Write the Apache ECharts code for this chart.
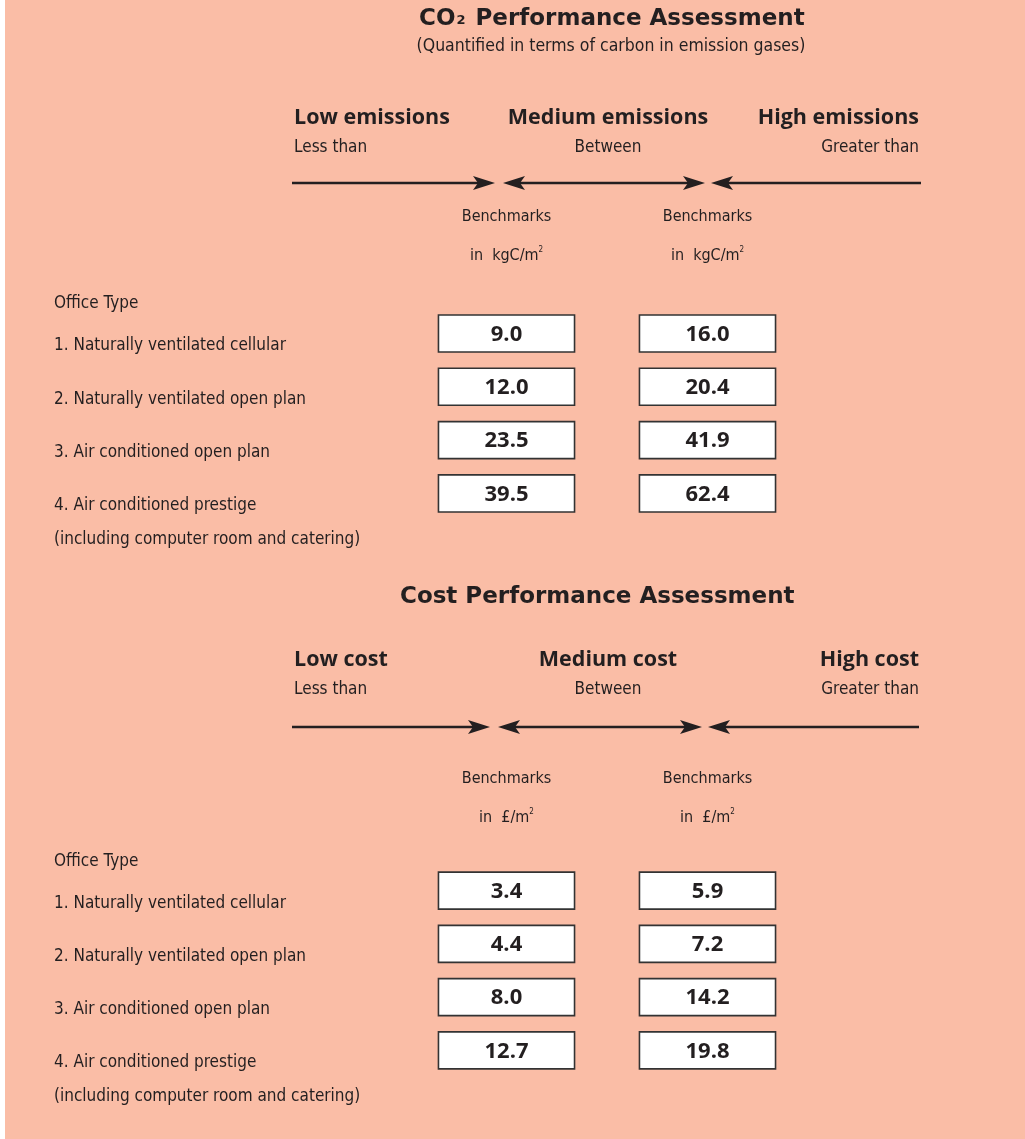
<!DOCTYPE html>
<html><head><meta charset="utf-8">
<script src="https://cdn.jsdelivr.net/npm/echarts@6/dist/echarts.min.js"></script>
<style>html,body{margin:0;padding:0;background:#fff}#c{width:1025px;height:1139px}</style>
</head><body><div id="c"></div>
<script>
// ---- data ----
const officeTypes = [
  '1. Naturally ventilated cellular',
  '2. Naturally ventilated open plan',
  '3. Air conditioned open plan',
  '4. Air conditioned prestige\n(including computer room and catering)'
];
const thresholds = ['Low / Medium boundary', 'Medium / High boundary'];
const co2Lower = [9.0, 12.0, 23.5, 39.5];
const co2Upper = [16.0, 20.4, 41.9, 62.4];
const costLower = [3.4, 4.4, 8.0, 12.7];
const costUpper = [5.9, 7.2, 14.2, 19.8];
const co2Unit = 'kgC/m';
const costUnit = '£/m';
const co2Bands = ['Low emissions', 'Medium emissions', 'High emissions'];
const costBands = ['Low cost', 'Medium cost', 'High cost'];
const bandQualifiers = ['Less than', 'Between', 'Greater than'];

// ---- style ----
const INK = '#231f20';
const BG = '#FABDA6';
const REG = "'Liberation Sans Narrow','DejaVu Sans Condensed','Roboto Condensed','Noto Sans',sans-serif";
const BOLD = "'Open Sans','Lato',sans-serif";
const TITLE = "'DejaVu Sans','Open Sans',sans-serif";

function boxData(lower, upper) {
  const d = [];
  officeTypes.forEach((t, i) => {
    d.push([thresholds[0], t, lower[i]]);
    d.push([thresholds[1], t, upper[i]]);
  });
  return d;
}

function renderBox(params, api) {
  const c = api.coord([api.value(0), api.value(1)]);
  const s = api.size([1, 1]);
  const w = s[0] * 0.677, h = s[1] * 0.695;
  return {
    type: 'group',
    children: [
      { type: 'rect', shape: { x: c[0] - w / 2, y: c[1] - h / 2, width: w, height: h },
        style: { fill: '#fff', stroke: '#333', lineWidth: 1.6 } },
      { type: 'text', x: c[0], y: c[1] + 1,
        style: { text: api.value(2).toFixed(1), align: 'center', verticalAlign: 'middle',
                 font: 'bold 22px ' + BOLD, fill: INK } }
    ]
  };
}

function yAxisFor(gi) {
  return {
    type: 'category', gridIndex: gi, data: officeTypes, inverse: true,
    axisLine: { show: false }, axisTick: { show: false }, splitLine: { show: false },
    axisLabel: {
      interval: 0, align: 'left', margin: 352, verticalAlign: 'top',
      formatter: v => v.split('\n').map((l, i) => (i === 0 ? '{a|' : '{b|') + l + '}').join('\n'),
      rich: {
        a: { fontFamily: REG, fontSize: 17, color: INK, lineHeight: 25 },
        b: { fontFamily: REG, fontSize: 17, color: INK, lineHeight: 42 }
      }
    }
  };
}

function xAxisFor(gi, unit, margin) {
  return {
    type: 'category', gridIndex: gi, data: thresholds, position: 'top',
    axisLine: { show: false }, axisTick: { show: false }, splitLine: { show: false },
    axisLabel: {
      interval: 0, margin: margin,
      formatter: () => '{a|Benchmarks}\n{a|in  ' + unit + '}{s|2}',
      rich: {
        a: { fontFamily: REG, fontSize: 16, color: INK, lineHeight: 39 },
        s: { fontFamily: REG, fontSize: 8, color: INK, lineHeight: 39, padding: [0, 0, 12, 0] }
      }
    }
  };
}

function txt(x, y, text, font, align) {
  return { type: 'text', x: x, y: y, silent: true,
    style: { text: text, font: font, fill: INK, align: align || 'left', verticalAlign: 'middle' } };
}

function head(tip, y, dir) {
  // dart-shaped arrow head; dir = 1 points right, -1 points left
  const L = 22, H = 7, N = 5;
  return { type: 'polygon', silent: true,
    shape: { points: [[tip, y], [tip - dir * L, y - H], [tip - dir * (L - N), y], [tip - dir * L, y + H]] },
    style: { fill: INK } };
}
function line(x1, x2, y) {
  return { type: 'line', silent: true, shape: { x1: x1, y1: y, x2: x2, y2: y },
    style: { stroke: INK, lineWidth: 2.5 } };
}
function arrows(y, a, b, c, d, start, end) {
  return [
    line(start, a - 10, y), head(a, y, 1),
    line(b + 10, c - 10, y), head(b, y, -1), head(c, y, 1),
    line(d + 10, end, y), head(d, y, -1)
  ];
}
function bandHeads(yH, yQ, bands) {
  const hf = 'bold 21.5px ' + BOLD;
  return [
    txt(294, yH, bands[0], hf, 'left'),
    txt(608, yH, bands[1], hf, 'center'),
    txt(919, yH, bands[2], hf, 'right'),
    txt(294, yQ, bandQualifiers[0], '17px ' + REG, 'left'),
    txt(608, yQ, bandQualifiers[1], '17px ' + REG, 'center'),
    txt(919, yQ, bandQualifiers[2], '17px ' + REG, 'right')
  ];
}

const graphic = [
  { type: 'rect', shape: { x: 5, y: 0, width: 1020, height: 1139 }, style: { fill: BG }, z: -10, silent: true },
  { type: 'text', x: 419, y: 19, silent: true,
    style: { text: '{b|CO}{s|2}{b| Performance Assessment}', verticalAlign: 'middle', align: 'left',
      rich: { b: { font: 'bold 23px ' + TITLE, fill: INK }, s: { font: 'bold 13px ' + TITLE, fill: INK, verticalAlign: 'bottom', padding: [0, 2, 3, 1] } } } },
  txt(611, 46, '(Quantified in terms of carbon in emission gases)', '17.5px ' + REG, 'center'),
  ...bandHeads(118, 148, co2Bands),
  ...arrows(183, 495, 503, 705, 711, 292, 921),
  txt(54, 304, 'Office Type', '17px ' + REG, 'left'),
  txt(400, 597, 'Cost Performance Assessment', 'bold 23px ' + TITLE, 'left'),
  ...bandHeads(660, 690, costBands),
  ...arrows(727, 490, 498, 702, 708, 292, 919),
  txt(54, 862, 'Office Type', '17px ' + REG, 'left')
];

const chart = echarts.init(document.getElementById('c'));
chart.setOption({
  backgroundColor: 'transparent',
  animation: false,
  graphic: graphic,
  grid: [
    { left: 406, top: 306.8, width: 402, height: 213.3 },
    { left: 406, top: 864, width: 402, height: 213 }
  ],
  xAxis: [xAxisFor(0, co2Unit, 31), xAxisFor(1, costUnit, 27)],
  yAxis: [yAxisFor(0), yAxisFor(1)],
  series: [
    { type: 'custom', name: 'CO2 benchmarks', xAxisIndex: 0, yAxisIndex: 0,
      data: boxData(co2Lower, co2Upper), encode: { x: 0, y: 1 }, renderItem: renderBox },
    { type: 'custom', name: 'Cost benchmarks', xAxisIndex: 1, yAxisIndex: 1,
      data: boxData(costLower, costUpper), encode: { x: 0, y: 1 }, renderItem: renderBox }
  ]
});
</script></body></html>
